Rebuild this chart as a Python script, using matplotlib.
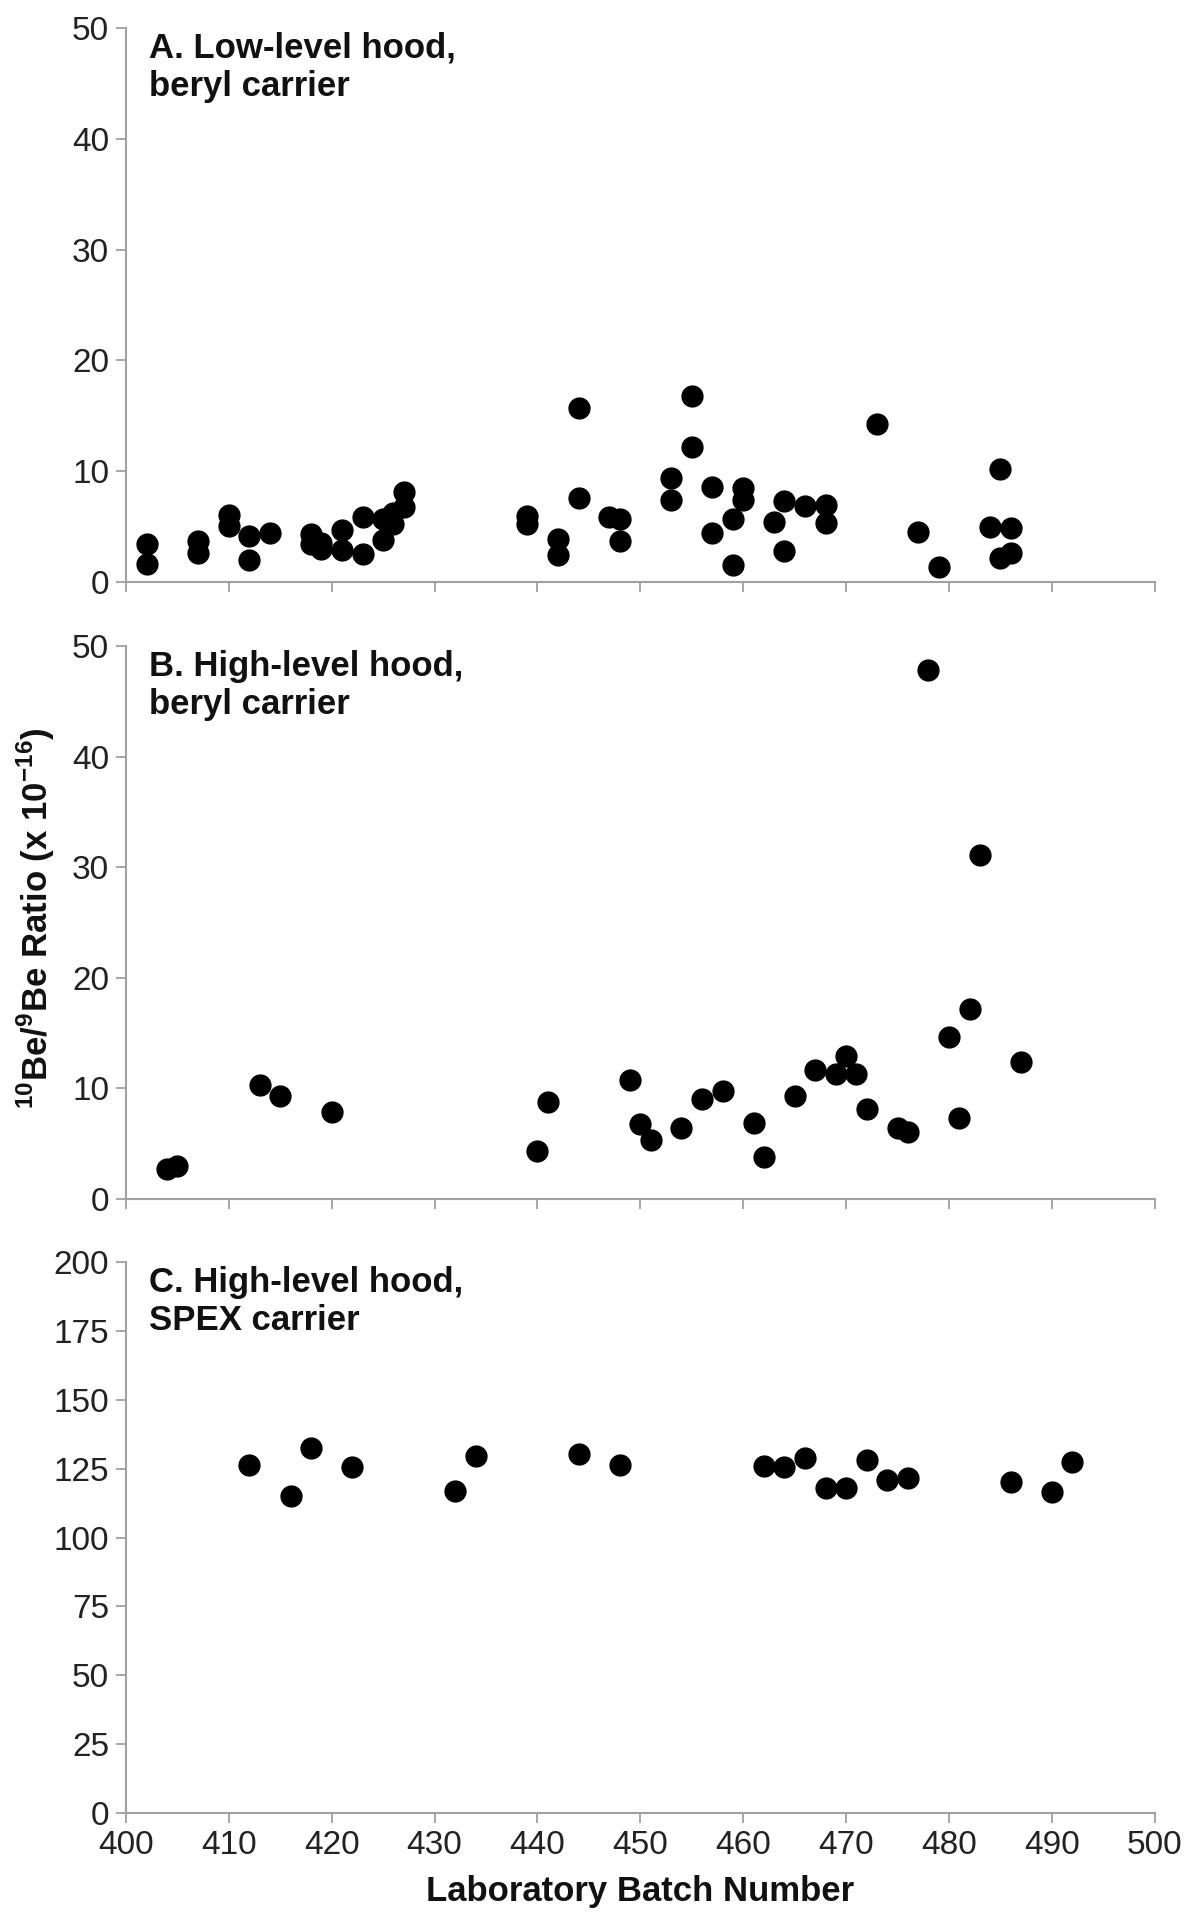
import matplotlib
matplotlib.use("Agg")
import matplotlib.pyplot as plt

plt.rcParams['font.family'] = ['Liberation Sans', 'DejaVu Sans']
plt.rcParams['mathtext.fontset'] = 'custom'
plt.rcParams['mathtext.rm'] = 'Liberation Sans'
plt.rcParams['mathtext.bf'] = 'Liberation Sans:bold'

# Panel A: low-level hood, beryl carrier
batch_a = [402, 402, 407, 407, 410, 410, 412, 412, 414, 418, 418, 419, 419,
           421, 421, 423, 423, 425, 425, 426, 426, 427, 427, 439, 439, 442, 442,
           444, 444, 447, 448, 448, 453, 453, 455, 455, 457, 457, 459, 459,
           460, 460, 463, 464, 464, 466, 468, 468, 473, 477, 479, 484, 485,
           485, 486, 486]
ratio_a = [3.4, 1.6, 3.7, 2.6, 6.1, 5.1, 4.2, 2.0, 4.4, 4.3, 3.4, 3.0, 3.5,
           4.7, 2.9, 5.9, 2.5, 3.8, 5.7, 5.2, 6.2, 8.1, 6.8, 6.0, 5.2, 3.9, 2.4,
           15.7, 7.6, 5.9, 5.7, 3.7, 9.4, 7.4, 16.8, 12.2, 8.6, 4.4, 5.7, 1.5,
           8.5, 7.4, 5.4, 7.3, 2.8, 6.9, 7.0, 5.3, 14.3, 4.5, 1.4, 5.0, 10.2,
           2.2, 2.6, 4.9]

# Panel B: high-level hood, beryl carrier
batch_b = [404, 405, 413, 415, 420, 440, 441, 449, 450, 451, 454, 456, 458,
           461, 462, 465, 467, 469, 470, 471, 472, 475, 476, 478, 480, 481,
           482, 483, 487]
ratio_b = [2.7, 3.0, 10.3, 9.3, 7.9, 4.3, 8.8, 10.8, 6.8, 5.3, 6.4, 9.0, 9.8,
           6.9, 3.8, 9.3, 11.7, 11.3, 12.9, 11.3, 8.1, 6.4, 6.1, 47.8, 14.6,
           7.3, 17.2, 31.1, 12.4]

# Panel C: high-level hood, SPEX carrier
batch_c = [412, 416, 418, 422, 432, 434, 444, 448, 462, 464, 466, 468, 470,
           472, 474, 476, 486, 490, 492]
ratio_c = [126.5, 115.0, 132.5, 125.5, 117.0, 129.5, 130.5, 126.5, 126.0,
           125.5, 129.0, 118.0, 118.0, 128.0, 121.0, 121.5, 120.0, 116.5, 127.5]

panels = [
    (batch_a, ratio_a, 50, 10, "A. Low-level hood,\nberyl carrier"),
    (batch_b, ratio_b, 50, 10, "B. High-level hood,\nberyl carrier"),
    (batch_c, ratio_c, 200, 25, "C. High-level hood,\nSPEX carrier"),
]

fig = plt.figure(figsize=(11.88, 19.23), dpi=100)
left, width = 0.106, 0.866
bottoms = [0.6973, 0.3765, 0.0572]
heights = [0.2881, 0.2876, 0.2865]

spine_col = '#a0a0a0'
text_col = '#222222'

for i, (xs, ys, ymax, ystep, label) in enumerate(panels):
    ax = fig.add_axes([left, bottoms[i], width, heights[i]])
    ax.plot(xs, ys, 'o', color='black', markersize=15, linestyle='none')
    ax.set_xlim(400, 500)
    ax.set_ylim(0, ymax)
    ax.set_xticks(range(400, 501, 10))
    ax.set_yticks(range(0, ymax + 1, ystep))
    for s in ['top', 'right']:
        ax.spines[s].set_visible(False)
    for s in ['left', 'bottom']:
        ax.spines[s].set_color(spine_col)
        ax.spines[s].set_linewidth(1.5)
    ax.tick_params(axis='both', direction='out', length=7, width=1.3,
                   color=spine_col, labelsize=24, labelcolor=text_col, pad=5)
    if i < 2:
        ax.tick_params(axis='x', labelbottom=False)
    ax.text(0.022, 0.993, label, transform=ax.transAxes, ha='left', va='top',
            fontsize=25, fontweight='bold', color='#111111', linespacing=1.2)

axc = fig.axes[-1]
axc.set_xlabel("Laboratory Batch Number", fontsize=25, fontweight='bold',
               color='#111111', labelpad=10)

fig.text(0.030, 0.5226,
         r"$^{\mathbf{10}}$Be/$^{\mathbf{9}}$Be Ratio (x 10$^{\mathbf{-16}}$)",
         rotation=90, ha='center', va='center', fontsize=25,
         fontweight='bold', color='#111111')

fig.savefig("out.png", dpi=100)
